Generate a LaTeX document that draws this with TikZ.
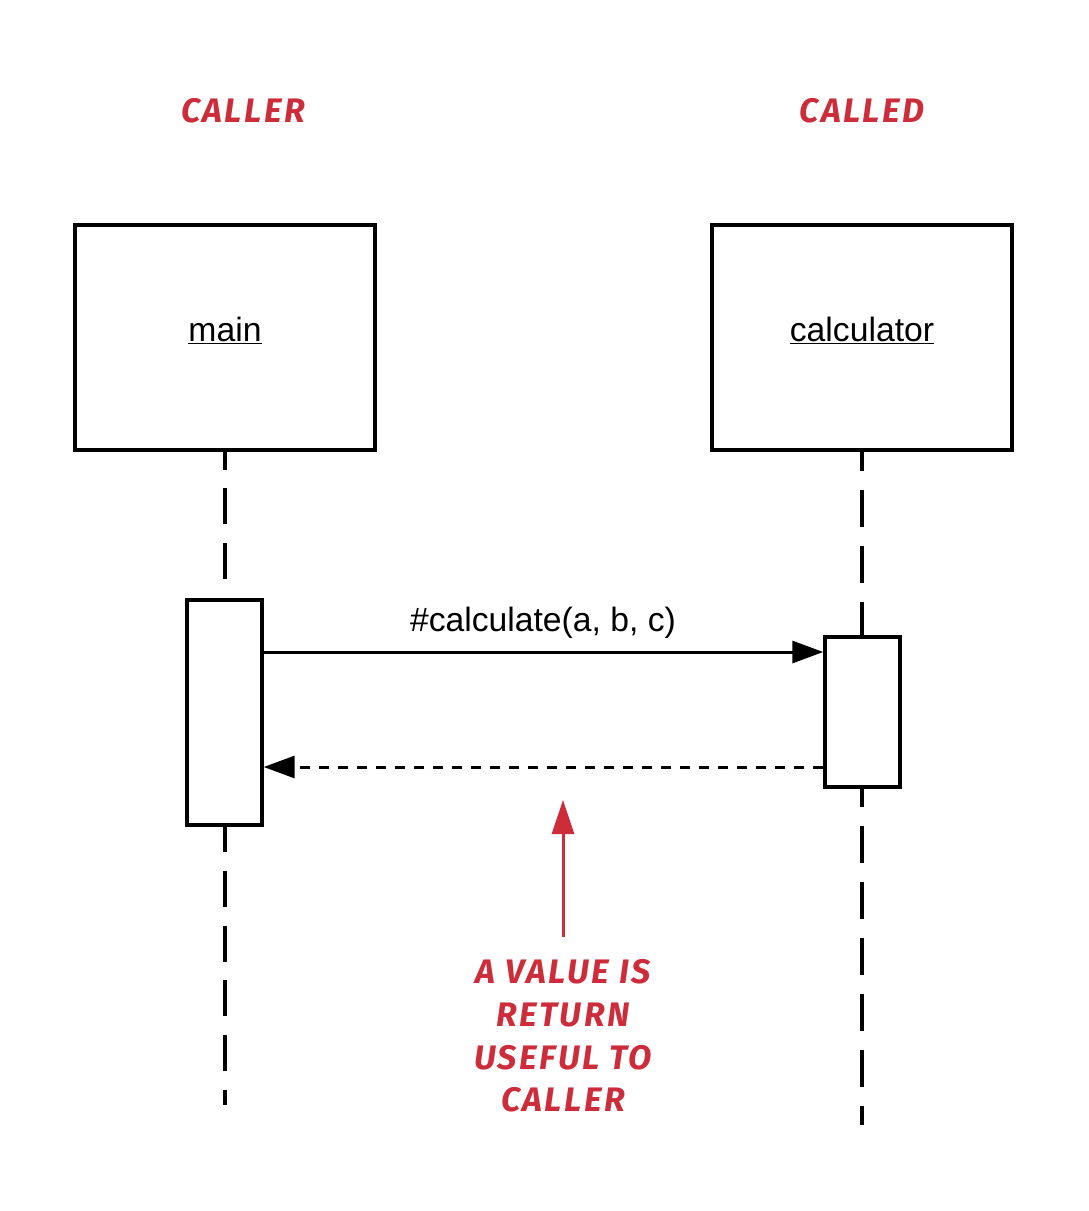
\documentclass[tikz,border=0pt]{standalone}
\usepackage{fontspec}
\setmainfont{Liberation Sans}
\newfontfamily\handfont{Fira Sans}[LetterSpace=7]
\usetikzlibrary{arrows.meta}
\definecolor{handred}{RGB}{205,44,58}
\begin{document}
\begin{tikzpicture}[x=1pt,y=-1pt,
  objbox/.style={draw,line width=3.4pt,fill=white,minimum width=300pt,minimum height=225pt,inner sep=0pt,text height=20pt,text depth=11.6pt,font=\fontsize{33.7}{40}\selectfont},
  actbox/.style={draw,line width=3.4pt,fill=white,minimum width=75pt,inner sep=0pt},
  msg/.style={line width=3pt,-{Triangle[length=31pt,width=22pt]}},
  handtext/.style={text=handred,font=\handfont\bfseries\itshape\fontsize{34}{42.7}\selectfont,align=center,inner sep=0pt},
  handarrow/.style={draw=handred,line width=3pt,-{Triangle[length=34pt,width=22pt]},handred}
]
\useasboundingbox (0,0) rectangle (1088,1211);
% titles
\node[handtext] (callerT) at (243,111) {CALLER};
\node[handtext] (calledT) at (862,111) {CALLED};
% objects
\node[objbox] (main) at (225,337.5) {\underline{main}};
\node[objbox] (calc) at (862,337.5) {\underline{calculator}};
% lifelines
\coordinate (mainEnd) at (225,1105);
\coordinate (calcEnd) at (862,1125);
\draw[line width=3.2pt,dash pattern=on 36pt off 18.66pt,dash phase=18pt] (main.south) -- (mainEnd);
\draw[line width=3.2pt,dash pattern=on 37pt off 19pt,dash phase=18pt] (calc.south) -- (calcEnd);
% activations
\node[actbox,minimum height=225pt] (mainAct) at (224.5,712.5) {};
\node[actbox,minimum height=150pt] (calcAct) at (862.5,712) {};
% messages
\coordinate (callY) at (0,652);
\coordinate (retY) at (0,767);
\draw[msg] (mainAct.east |- callY) -- (calcAct.west |- callY);
\node[font=\fontsize{33.7}{40}\selectfont] (callL) at (543,623) {\#calculate(a, b, c)};
\draw[msg,dash pattern=on 10pt off 9pt] (calcAct.west |- retY) -- (mainAct.east |- retY);
% note
\node[handtext] (note) at (563,1036) {A VALUE IS\\RETURN\\USEFUL TO\\CALLER};
\coordinate (noteStart) at (563,937);
\coordinate (noteTip) at (563,800);
\draw[handarrow] (noteStart) -- (noteTip);
\end{tikzpicture}
\end{document}
